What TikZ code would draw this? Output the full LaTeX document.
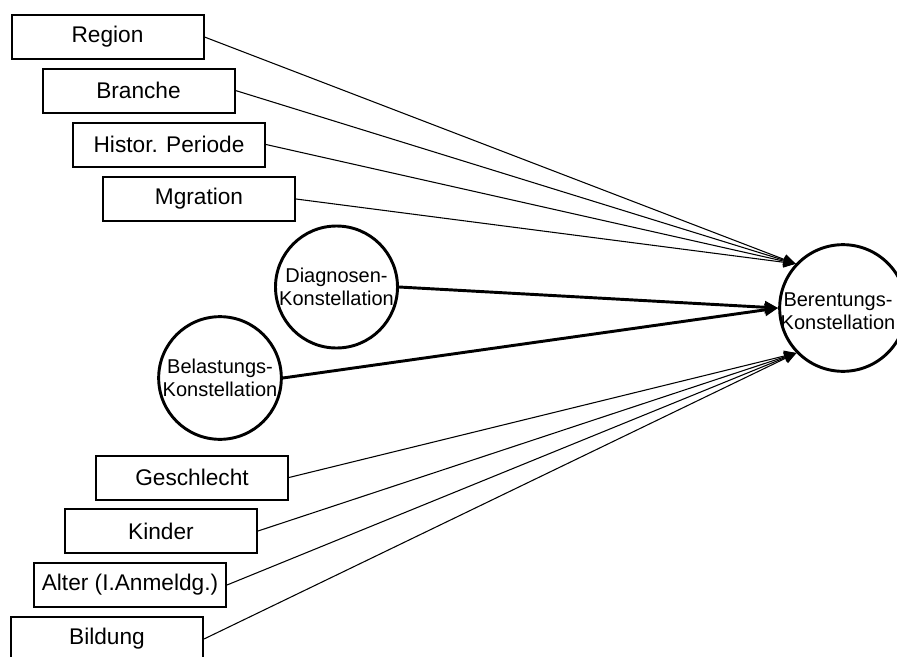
\documentclass[tikz,border=0pt]{standalone}
\usepackage{fontspec}
\setmainfont{Liberation Sans}
\usetikzlibrary{arrows.meta}
\begin{document}
\begin{tikzpicture}[x=0.75pt,y=-0.75pt,
  box/.style={draw,line width=1.5pt,minimum width=144pt,minimum height=33pt,inner sep=0pt,font=\fontsize{17}{20}\selectfont},
  circ/.style={draw,circle,line width=2.2pt,inner sep=0pt,align=center,font=\fontsize{15}{17}\selectfont},
  circtext/.style={inner sep=0pt,align=center,font=\fontsize{15}{17}\selectfont},
  arrthin/.style={line width=0.8pt,-{Triangle[length=9pt,width=8pt]}},
  arrthick/.style={line width=2.2pt,-{Triangle[length=10pt,width=9pt]}}]
\useasboundingbox (0,0) rectangle (897,657);
\clip (0,0) rectangle (897,657);
% boxes
\node[box] (region) at (107.5,37) {Region};
\node[box] (branche) at (138.5,90.5) {Branche};
\node[box] (histor) at (169,144.5) {Histor. Periode};
\node[box] (migr) at (199,199) {Mgration};
\node[box] (geschl) at (192,477.5) {Geschlecht};
\node[box] (kinder) at (161,531) {Kinder};
\node[box] (alter) at (130,585) {Alter (I.Anmeldg.)};
\node[box] (bildung) at (107,639) {Bildung};
% circles
\node[circ,minimum size=91.5pt] (diag) at (336.5,287) {Diagnosen-\\Konstellation};
\node[circ,minimum size=92pt] (bel) at (220,378) {Belastungs-\\Konstellation};
\node[circ,minimum size=95pt] (ber) at (843,308) {};
\node[circtext] (bertext) at (838,311) {Berentungs-\\Konstellation};
% connectors
\foreach \n in {region,branche,histor,migr}
  \draw[arrthin] (\n.east) -- (ber.137);
\foreach \n in {geschl,kinder,alter,bildung}
  \draw[arrthin] (\n.east) -- (ber.224);
\draw[arrthick] (diag.east) -- (ber.180);
\draw[arrthick] (bel.east) -- (ber.180);
\end{tikzpicture}
\end{document}
